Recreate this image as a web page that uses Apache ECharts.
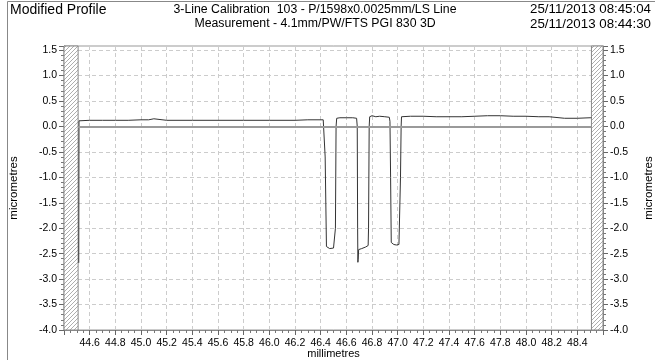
<!DOCTYPE html>
<html><head><meta charset="utf-8">
<script src="https://cdn.jsdelivr.net/npm/echarts@6/dist/echarts.min.js"></script>
<style>html,body{margin:0;padding:0;background:#fff}#c{width:655px;height:360px}</style>
</head><body><div id="c"></div>
<script>
// ---- data ----
const titleLeft = 'Modified Profile';
const titleMid = ['3-Line Calibration  103 - P/1598x0.0025mm/LS Line', 'Measurement - 4.1mm/PW/FTS PGI 830 3D'];
const titleRight = ['25/11/2013 08:45:04', '25/11/2013 08:44:30'];
const xName = 'millimetres';
const yName = 'micrometres';
const xRange = [44.4, 48.6];
const yRange = [-4.0, 1.58];
const excludedLeft = [44.4, 44.51];
const excludedRight = [48.51, 48.6];
const profileX = [44.515, 44.517, 44.60, 44.70, 44.80, 44.90, 45.00, 45.06, 45.07, 45.10, 45.11, 45.20, 45.40, 45.60, 45.80, 46.00, 46.20, 46.30, 46.42,
  46.43, 46.435, 46.445, 46.45, 46.47, 46.50, 46.512, 46.515, 46.52, 46.525, 46.55, 46.60, 46.65, 46.68,
  46.685, 46.688, 46.69, 46.692, 46.696, 46.72, 46.75, 46.77, 46.773, 46.778, 46.782, 46.80, 46.83, 46.86, 46.90, 46.935,
  46.94, 46.945, 46.95, 46.97, 46.99, 47.01, 47.018, 47.022, 47.027, 47.03, 47.10, 47.20, 47.30, 47.40, 47.50, 47.60,
  47.70, 47.80, 47.90, 48.00, 48.10, 48.18, 48.19, 48.30, 48.40, 48.50, 48.51];
const profileY = [-2.68, 0.11, 0.12, 0.12, 0.12, 0.12, 0.13, 0.13, 0.16, 0.15, 0.13, 0.12, 0.12, 0.12, 0.12, 0.12, 0.12, 0.13, 0.13,
  0.11, -0.6, -2.36, -2.39, -2.40, -2.39, -2.38, -2.0, 0.0, 0.16, 0.17, 0.17, 0.17, 0.16,
  0.0, -2.0, -2.67, -2.62, -2.42, -2.40, -2.37, -2.34, -2.0, 0.0, 0.19, 0.21, 0.19, 0.20, 0.19, 0.18,
  0.10, -1.0, -2.28, -2.32, -2.33, -2.32, -2.31, -1.0, 0.0, 0.19, 0.20, 0.20, 0.19, 0.19, 0.19, 0.20,
  0.21, 0.21, 0.20, 0.20, 0.19, 0.19, 0.16, 0.16, 0.16, 0.17, 0.17];
const zeroLevel = 0;

// ---- chart ----
const FONT = 'Liberation Sans, Arial, sans-serif';
const pc = document.createElement('canvas');
pc.width = 4; pc.height = 4;
const g = pc.getContext('2d');
g.fillStyle = '#fff'; g.fillRect(0, 0, 4, 4);
g.strokeStyle = '#999'; g.lineWidth = 0.8;
g.beginPath();
g.moveTo(-1, 5); g.lineTo(5, -1);
g.moveTo(-1, 1); g.lineTo(1, -1);
g.moveTo(3, 5); g.lineTo(5, 3);
g.stroke();
const hatch = {image: pc, repeat: 'repeat'};

const data = profileX.map((x, i) => [x, profileY[i]]);
const chart = echarts.init(document.getElementById('c'), null, {renderer: 'canvas'});
const yAxisBase = (pos) => ({
  type: 'value', position: pos, min: yRange[0], max: yRange[1], interval: 0.5,
  name: yName, nameLocation: 'middle', nameGap: pos === 'left' ? 44 : 40, nameMoveOverlap: false,
  nameTextStyle: {fontFamily: FONT, fontSize: 11.5, color: '#000'},
  axisLine: {show: true, lineStyle: {color: '#888'}},
  axisTick: {show: true, inside: false, length: 5, lineStyle: {color: '#666'}},
  minorTick: {show: true, splitNumber: 5, length: 3, lineStyle: {color: '#777'}},
  axisLabel: {showMaxLabel: false, inside: false, margin: 7, fontFamily: FONT, fontSize: 10.5, color: '#000', formatter: v => v.toFixed(1)},
  splitLine: {show: pos === 'left', lineStyle: {color: '#ccc', type: [4, 3]}}
});
chart.setOption({
  animation: false,
  grid: {left: 64, right: 52, top: 46, bottom: 30, containLabel: false, outerBoundsMode: 'none', show: true, borderColor: '#999', borderWidth: 1},
  graphic: [
    {type: 'polyline', shape: {points: [[7.5, 360], [7.5, 1.5], [655, 1.5]]}, style: {stroke: '#888', fill: null, lineWidth: 1}},
    {type: 'text', x: 10, y: 3, style: {text: titleLeft, font: '14px ' + FONT, fill: '#000'}},
    {type: 'text', x: 315, y: 4, style: {text: titleMid[0], font: '12.3px ' + FONT, fill: '#000', textAlign: 'center'}},
    {type: 'text', x: 315, y: 18, style: {text: titleMid[1], font: '12.3px ' + FONT, fill: '#000', textAlign: 'center'}},
    {type: 'text', x: 651, y: 3, style: {text: titleRight[0], font: '13.3px ' + FONT, fill: '#000', textAlign: 'right'}},
    {type: 'text', x: 651, y: 18, style: {text: titleRight[1], font: '13.3px ' + FONT, fill: '#000', textAlign: 'right'}}
  ],
  xAxis: {
    type: 'value', min: xRange[0], max: xRange[1], interval: 0.2,
    name: xName, nameLocation: 'middle', nameGap: 18, nameMoveOverlap: false,
    nameTextStyle: {fontFamily: FONT, fontSize: 11, color: '#000'},
    axisLine: {show: true, onZero: false, lineStyle: {color: '#888'}},
    axisTick: {show: true, inside: false, length: 5, lineStyle: {color: '#666'}},
    minorTick: {show: true, splitNumber: 4, length: 3, lineStyle: {color: '#777'}},
    axisLabel: {showMinLabel: false, showMaxLabel: false, margin: 8, fontFamily: FONT, fontSize: 10.5, color: '#000', formatter: v => v.toFixed(1)},
    splitLine: {show: true, lineStyle: {color: '#ccc', type: [4, 3]}}
  },
  yAxis: [yAxisBase('left'), yAxisBase('right')],
  series: [{
    type: 'line', data: data, showSymbol: false, symbol: 'none',
    lineStyle: {color: '#333', width: 1},
    markArea: {silent: true, itemStyle: {color: hatch, borderColor: '#888', borderWidth: 1},
      data: [[{xAxis: excludedLeft[0]}, {xAxis: excludedLeft[1]}], [{xAxis: excludedRight[0]}, {xAxis: excludedRight[1]}]]},
    markLine: {silent: true, symbol: 'none', label: {show: false},
      lineStyle: {color: '#9a9a9a', width: 2, type: 'solid'},
      data: [[{coord: [excludedLeft[1], zeroLevel]}, {coord: [excludedRight[0], zeroLevel]}]]},
    z: 3
  }]
});
</script></body></html>
